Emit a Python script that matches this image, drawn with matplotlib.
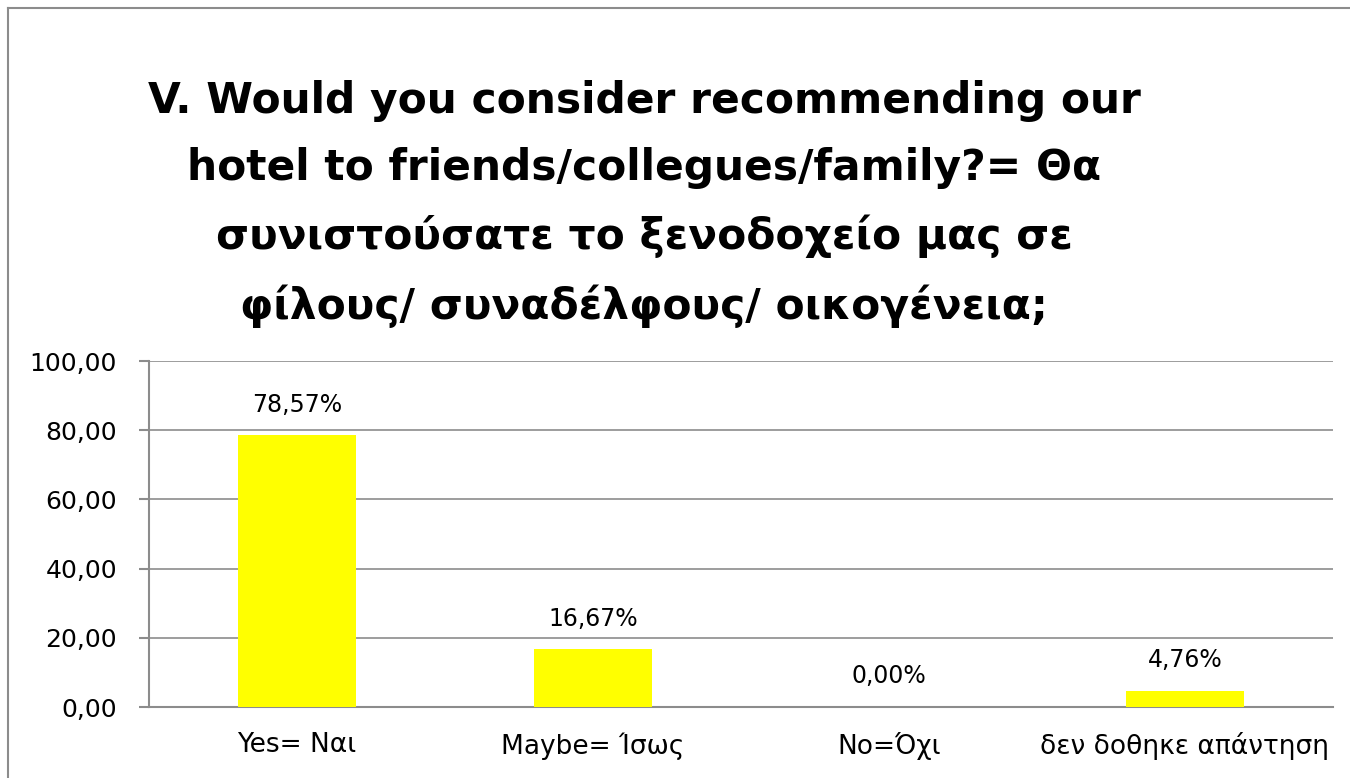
import matplotlib
matplotlib.use("Agg")
import matplotlib.pyplot as plt
from matplotlib.lines import Line2D

categories = ["Yes= Ναι", "Maybe= Ίσως", "No=Όχι", "δεν δοθηκε απάντηση"]
values = [78.57, 16.67, 0.00, 4.76]
yticks = [0, 20, 40, 60, 80, 100]
title = ("V. Would you consider recommending our\n"
         "hotel to friends/collegues/family?= Θα\n"
         "συνιστούσατε το ξενοδοχείο μας σε\n"
         "φίλους/ συναδέλφους/ οικογένεια;")

plt.rcParams["font.family"] = ["DejaVu Sans"]

W, H = 1350, 778
fig = plt.figure(figsize=(W / 100, H / 100), dpi=100)
fig.patch.set_facecolor("white")

# outer chart frame (top and left edges)
fig.add_artist(Line2D([8 / W, 1.0], [1 - 8 / H, 1 - 8 / H], transform=fig.transFigure,
                      color="#8c8c8c", lw=1.5))
fig.add_artist(Line2D([8 / W, 8 / W], [0, 1 - 8 / H], transform=fig.transFigure,
                      color="#8c8c8c", lw=1.5))

ax = fig.add_axes([149 / W, 1 - 707 / H, (1333 - 149) / W, (707 - 361) / H])
x = range(len(categories))
ax.bar(x, values, width=0.4, color="#ffff00", zorder=3)
ax.set_xlim(-0.5, len(categories) - 0.5)
ax.set_ylim(0, 100)
ax.set_yticks(yticks)
ax.set_yticklabels([f"{v:.2f}".replace(".", ",") for v in yticks], fontsize=18)
ax.set_xticks(list(x))
ax.set_xticklabels(categories, fontsize=19)
ax.tick_params(axis="x", length=0, pad=18)
ax.tick_params(axis="y", length=7, width=1.5, color="#8c8c8c", pad=16)

for s in ["top", "right"]:
    ax.spines[s].set_visible(False)
for s in ["left", "bottom"]:
    ax.spines[s].set_color("#8c8c8c")
    ax.spines[s].set_linewidth(1.5)
ax.yaxis.grid(True, color="#8c8c8c", lw=1.2, zorder=0)
ax.set_axisbelow(True)

for xi, v in zip(x, values):
    ax.annotate(f"{v:.2f}%".replace(".", ","), (xi, v), xytext=(0, 17),
                textcoords="offset points", ha="center", va="baseline", fontsize=17)

fig.text(644 / W, 1 - 204 / H, title, ha="center", va="center", fontsize=30.5,
         fontweight="bold", linespacing=1.75)

fig.savefig("out.png", dpi=100)
